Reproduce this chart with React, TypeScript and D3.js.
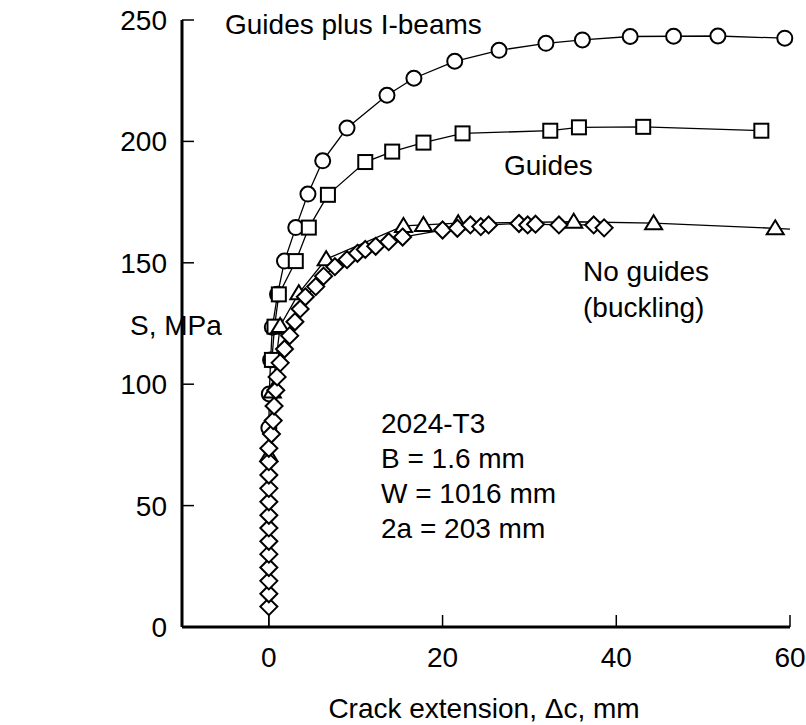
import React from "react";
import * as d3 from "d3";

// ---- Data (x = crack extension Δc in mm, y = S in MPa) ----
const guidesIBeamsX = [0, 0.05, 0.2, 0.4, 1.0, 1.8, 3.1, 4.5, 6.2, 9.0, 13.6, 16.7, 21.4, 26.5, 31.9, 36.1, 41.6, 46.6, 51.7, 59.4];
const guidesIBeamsY = [82, 96, 110, 123.5, 137, 150.7, 164.5, 178.3, 192, 205.5, 219, 226, 233, 237.5, 240.4, 241.8, 243.2, 243.3, 243.4, 242.5];

const guidesX = [0.35, 0.65, 1.15, 3.1, 4.6, 6.8, 11.1, 14.2, 17.8, 22.3, 32.4, 35.7, 43.1, 56.7];
const guidesY = [110, 123.7, 137, 150.7, 164.5, 178, 191.5, 195.8, 199.5, 203.3, 204.4, 205.8, 206, 204.4];

const noGuidesTriX = [0, 0.4, 1.3, 3.45, 6.6, 15.5, 17.8, 21.8, 35.1, 44.3, 58.3];
const noGuidesTriY = [70.8, 97, 124, 137.5, 151.5, 165.2, 165.6, 166.3, 166.9, 166.3, 164.2];
const noGuidesTriLineEnd = [60, 163.9];

const noGuidesDiaX = [0, 0, 0, 0, 0, 0, 0, 0, 0, 0, 0, 0, 0, 0.3, 0.5, 0.6, 0.8, 0.95, 1.3, 1.8, 2.4, 3.0, 3.6, 4.2, 5.4, 6.3, 7.6, 9.0, 10.2, 11.1, 12.3, 13.8, 15.4, 20.0, 21.7, 23.2, 24.4, 25.3, 28.8, 29.8, 30.7, 33.4, 37.4, 38.6];
const noGuidesDiaY = [8.4, 13.7, 19, 24.5, 30, 35.3, 40.8, 46, 51.6, 57.1, 62.6, 68.1, 73.6, 79.5, 85, 91, 97.5, 103, 108.8, 114.5, 120, 125.7, 131, 136, 140.2, 144.5, 148.4, 151.3, 153.9, 155.5, 156.8, 158.7, 160.6, 163.5, 164.2, 165.6, 164.9, 165.6, 166.2, 165.6, 165.9, 165.6, 165.6, 164.4];
const noGuidesDiaLineStart = [0, 0];

const xTicks = [0, 20, 40, 60];
const yTicks = [0, 50, 100, 150, 200, 250];
const xDomain = [-10, 60];
const yDomain = [0, 250];

const specimenLines = ["2024-T3", "B = 1.6 mm", "W = 1016 mm", "2a = 203 mm"];

const W = 806;
const H = 725;
const FONT = "Liberation Sans, Arial, sans-serif";
const FS = 28;

export default function App() {
  const x = d3.scaleLinear().domain(xDomain).range([182, 790]);
  const y = d3.scaleLinear().domain(yDomain).range([627, 20]);
  const line = d3.line<number[]>().x((d) => x(d[0])).y((d) => y(d[1]));

  const zip = (xs: number[], ys: number[]) => xs.map((v, i) => [v, ys[i]]);
  const circ = zip(guidesIBeamsX, guidesIBeamsY);
  const sq = zip(guidesX, guidesY);
  const tri = zip(noGuidesTriX, noGuidesTriY);
  const dia = zip(noGuidesDiaX, noGuidesDiaY);

  const triPath = (cx: number, cy: number) => {
    const s = 8.5;
    return `M${cx},${cy - 8}L${cx + s},${cy + 6}L${cx - s},${cy + 6}Z`;
  };
  const diaPath = (cx: number, cy: number) => {
    const s = 8.5;
    return `M${cx},${cy - s}L${cx + s},${cy}L${cx},${cy + s}L${cx - s},${cy}Z`;
  };

  return (
    <svg width={W} height={H} style={{ position: "absolute", left: 0, top: 0, background: "#fff" }} fontFamily={FONT}>
      <rect x={0} y={0} width={W} height={H} fill="#fff" />
      {/* series lines */}
      <g fill="none" stroke="#000" strokeWidth={1.3}>
        <path d={line(circ) || ""} />
        <path d={line(sq) || ""} />
        <path d={line([...tri, noGuidesTriLineEnd]) || ""} />
        <path d={line([noGuidesDiaLineStart, ...dia]) || ""} />
      </g>
      {/* markers */}
      <g fill="#fff" stroke="#000" strokeWidth={2}>
        {circ.map((d, i) => (
          <circle key={"c" + i} cx={x(d[0])} cy={y(d[1])} r={7.5} />
        ))}
        {sq.map((d, i) => (
          <rect key={"s" + i} x={x(d[0]) - 7} y={y(d[1]) - 7} width={14} height={14} />
        ))}
        {tri.map((d, i) => (
          <path key={"t" + i} d={triPath(x(d[0]), y(d[1]))} />
        ))}
        {dia.map((d, i) => (
          <path key={"d" + i} d={diaPath(x(d[0]), y(d[1]))} />
        ))}
      </g>
      {/* axes */}
      <g stroke="#000">
        <line x1={x(-10)} x2={x(60)} y1={y(0)} y2={y(0)} strokeWidth={3} />
        <line x1={x(-10)} x2={x(-10)} y1={y(0)} y2={y(250)} strokeWidth={3} />
        {xTicks.map((t) => (
          <line key={"xt" + t} x1={x(t)} x2={x(t)} y1={y(0)} y2={y(0) - 12} strokeWidth={1.5} />
        ))}
        {yTicks.map((t) => (
          <line key={"yt" + t} x1={x(-10)} x2={x(-10) + 12} y1={y(t)} y2={y(t)} strokeWidth={1.5} />
        ))}
      </g>
      <g fontSize={FS} fill="#000">
        {xTicks.map((t) => (
          <text key={"xl" + t} x={x(t)} y={667} textAnchor="middle">{t}</text>
        ))}
        {yTicks.map((t) => (
          <text key={"yl" + t} x={167} y={y(t) + 10} textAnchor="end">{t}</text>
        ))}
        <text x={484} y={718} textAnchor="middle">Crack extension, Δc, mm</text>
        <text x={130} y={335}>S, MPa</text>
        <text x={225} y={34}>Guides plus I-beams</text>
        <text x={504} y={175}>Guides</text>
        <text x={583} y={281}>No guides</text>
        <text x={583} y={317}>(buckling)</text>
        {specimenLines.map((s, i) => (
          <text key={"sp" + i} x={381} y={433 + i * 35}>{s}</text>
        ))}
      </g>
    </svg>
  );
}
